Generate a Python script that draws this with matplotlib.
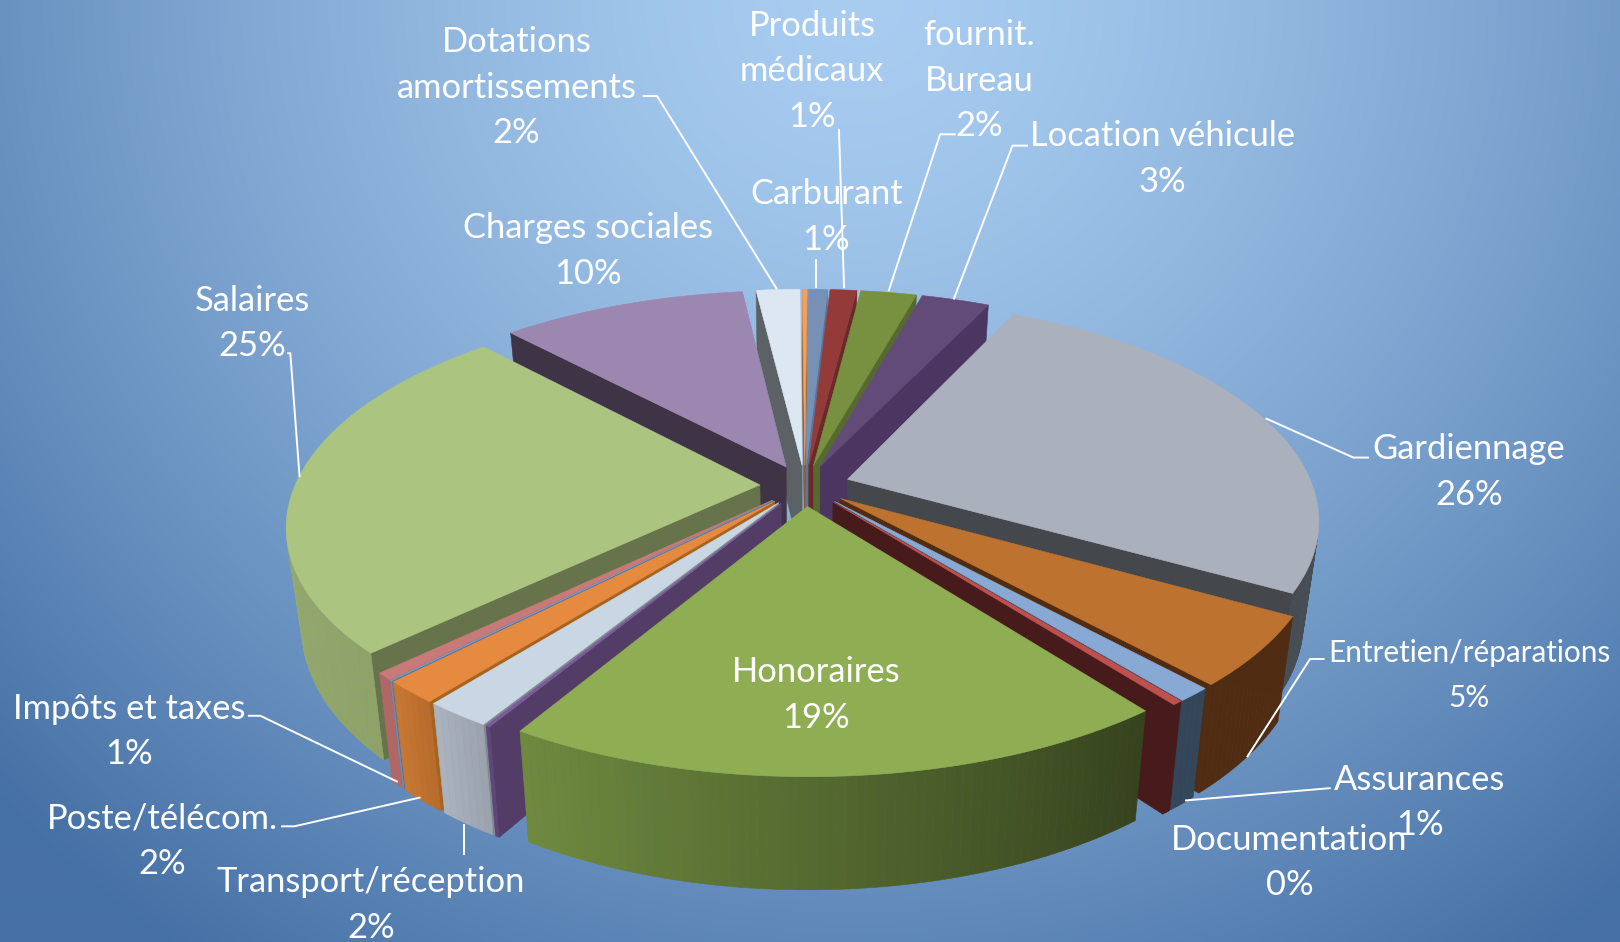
import numpy as np
import matplotlib.pyplot as plt
from matplotlib.colors import to_rgb

plt.rcParams["font.family"] = ["Lato", "DejaVu Sans"]

# slices, clockwise from the Gardiennage edge
slice_names = ["Gardiennage", "Entretien/réparations", "Assurances", "Documentation", "Honoraires",
               "Sans libellé 1", "Transport/réception", "Poste/télécom.", "Sans libellé 2", "Impôts et taxes",
               "Salaires", "Charges sociales", "Dotations amortissements", "Sans libellé 3", "Carburant",
               "Produits médicaux", "fournit. Bureau", "Location véhicule"]
slice_values = [26.15, 5.05, 1.0, 0.3, 19.1,
                0.13, 1.93, 1.62, 0.05, 0.53,
                25.2, 10.1, 1.8, 0.2, 0.8,
                1.1, 2.3, 2.8]

top_colors = ["#aab1bd", "#bd7230", "#88a9d3", "#c0504d", "#8fae53",
              "#7a5c9c", "#c9d6e3", "#e58a3e", "#7a9cc8", "#c87a78",
              "#abc480", "#9c87b0", "#dde7f1", "#f2a05f", "#7690b6",
              "#943a38", "#779141", "#624b79"]
wall_colors = ["#44474c", "#4f2c12", "#34465a", "#471b1b", "#4f5f2f",
               "#533c66", "#7f8791", "#a8641f", "#5a7396", "#8f4a48",
               "#66734b", "#3f3346", "#5c6166", "#8f5a2a", "#5a7396",
               "#6a2a28", "#566a2f", "#4a3660"]
rim_low_colors = ["#50555c", "#4f2c12", "#34465a", "#471b1b", "#36431e",
                  "#5f4679", "#9aa3ae", "#b96c2b", "#6f8fb8", "#b06866",
                  "#8fa368", "#7c6c8c", "#b0b8c0", "#c08050", "#5e7392",
                  "#762e2c", "#5f7434", "#4e3c60"]
rim_high_colors = ["#474c52", "#4f2c12", "#34465a", "#471b1b", "#6f8a3f",
                   "#5f4679", "#a9b2bd", "#c77731", "#6f8fb8", "#b06866",
                   "#a3b97c", "#7c6c8c", "#b0b8c0", "#c08050", "#5e7392",
                   "#762e2c", "#5f7434", "#4e3c60"]

# label text: first line centre x, y in the 1568 wide view
labels = [
    ("Dotations\namortissements\n2%", 500, 41, 24.8),
    ("Produits\nmédicaux\n1%", 786, 25, 24.8),
    ("fournit.\nBureau\n2%", 948, 34, 24.8),
    ("Location véhicule\n3%", 1125, 132, 24.8),
    ("Carburant\n1%", 800, 188, 24.8),
    ("Charges sociales\n10%", 569, 221, 24.8),
    ("Salaires\n25%", 244, 291, 24.8),
    ("Gardiennage\n26%", 1422, 435, 24.8),
    ("Entretien/réparations\n5%", 1422, 632, 21.4),
    ("Assurances\n1%", 1374, 755, 24.8),
    ("Documentation\n0%", 1248, 813, 24.8),
    ("Honoraires\n19%", 790, 651, 24.8),
    ("Impôts et taxes\n1%", 125, 686, 24.8),
    ("Poste/télécom.\n2%", 157, 792, 24.8),
    ("Transport/réception\n2%", 359, 854, 24.8),
]

leaders = [
    [(622, 93), (636, 93), (752, 280)],
    [(790, 251), (790, 279)],
    [(812, 125), (817, 279)],
    [(925, 130), (910, 130), (860, 282)],
    [(995, 141), (980, 141), (923, 290)],
    [(1325, 443), (1310, 443), (1225, 405)],
    [(1282, 638), (1268, 638), (1207, 733)],
    [(1288, 763), (1147, 775)],
    [(278, 342), (281, 342), (290, 462)],
    [(240, 693), (252, 693), (385, 757)],
    [(272, 800), (285, 800), (407, 772)],
    [(449, 828), (449, 798)],
]

# pie geometry, in the same units as above
CX, CY = 779, 470
RADIUS = 450
EXPLODE = 43.5
SQUASH = 0.46
PERSP = 0.197 / 498.5
HEIGHT = 95
BOTTOM_SCALE = 0.97
START = np.radians(25.5)


def project(r, theta, mid, bottom=False):
    x = r * np.sin(theta) + EXPLODE * np.sin(mid)
    y = r * np.cos(theta) + EXPLODE * np.cos(mid)
    w = 1 / (1 + PERSP * y)
    sx = x * w
    sy = -SQUASH * y * w
    if bottom:
        return CX + sx * BOTTOM_SCALE, CY + sy * BOTTOM_SCALE + HEIGHT * w
    return CX + sx, CY + sy


def facing(p1, p2, p3, p4):
    pts = np.array([p1, p2, p3, p4])
    nxt = np.roll(pts, -1, axis=0)
    return np.sum(pts[:, 0] * nxt[:, 1] - nxt[:, 0] * pts[:, 1]) < 0


def mix(c1, c2, t):
    return tuple((1 - t) * a + t * b for a, b in zip(to_rgb(c1), to_rgb(c2)))


def draw_quad(ax, pts, color, zorder):
    xs, ys = zip(*pts)
    ax.fill(xs, ys, color=color, lw=0.4, zorder=zorder)


fig = plt.figure(figsize=(16.2, 9.42), dpi=100)
ax = fig.add_axes([0, 0, 1, 1])
ax.set_xlim(0, 1568)
ax.set_ylim(912, 0)
ax.axis("off")

# background gradient
gy, gx = np.mgrid[0:1:236j, 0:1:405j]
dist = np.clip(np.hypot((gx - 0.53) / 0.735, gy / 1.24), 0, 1)[..., None] ** 1.4
inner = np.array(to_rgb("#a9cdf1"))
outer = np.array(to_rgb("#4570a5"))
ax.imshow(inner * (1 - dist) + outer * dist, extent=(0, 1568, 912, 0), aspect="auto", zorder=0,
          interpolation="bilinear")

shares = np.array(slice_values) / sum(slice_values) * 2 * np.pi
edges = START + np.concatenate([[0], np.cumsum(shares)])
mids = (edges[:-1] + edges[1:]) / 2

# back slices first
order = np.argsort(-np.cos(mids))
for z, i in enumerate(order):
    low, high, mid = edges[i], edges[i + 1], mids[i]
    zbase = 2 + z * 0.01
    thetas = np.linspace(low, high, max(2, int(np.degrees(high - low)) + 2))

    apex_t = project(0, low, mid)
    apex_b = project(0, low, mid, bottom=True)
    for a, b, c, d in [
        (apex_t, project(RADIUS, low, mid), project(RADIUS, low, mid, True), apex_b),
        (project(RADIUS, high, mid), apex_t, apex_b, project(RADIUS, high, mid, True)),
    ]:
        if facing(a, b, c, d):
            draw_quad(ax, [a, b, c, d], wall_colors[i], zbase)

    for j in range(len(thetas) - 1):
        a = project(RADIUS, thetas[j], mid)
        b = project(RADIUS, thetas[j + 1], mid)
        c = project(RADIUS, thetas[j + 1], mid, True)
        d = project(RADIUS, thetas[j], mid, True)
        if facing(a, b, c, d):
            t = j / max(1, len(thetas) - 2)
            draw_quad(ax, [a, b, c, d], mix(rim_low_colors[i], rim_high_colors[i], t), zbase + 0.001)

    top = [apex_t] + [project(RADIUS, t, mid) for t in thetas]
    draw_quad(ax, top, top_colors[i], zbase + 0.002)

for line in leaders:
    xs, ys = zip(*line)
    ax.plot(xs, ys, color="white", lw=1.4, zorder=4, solid_capstyle="butt")

LINE_PITCH = 44
for text, x, y, size in labels:
    for n, part in enumerate(text.split("\n")):
        ax.text(x, y + n * LINE_PITCH, part, color="white", fontsize=size, ha="center", va="center", zorder=5)

fig.savefig("out.png", dpi=100)
